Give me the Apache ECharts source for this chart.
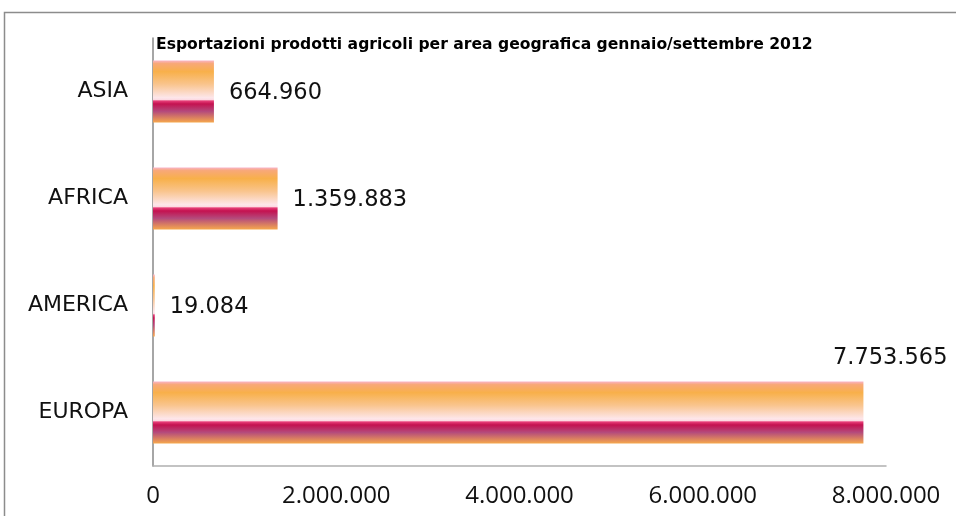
<!DOCTYPE html>
<html><head><meta charset="utf-8">
<script src="https://cdn.jsdelivr.net/npm/echarts@6/dist/echarts.min.js"></script>
<style>html,body{margin:0;padding:0;background:#fff}#c{width:956px;height:516px}</style>
</head><body><div id="c"></div>
<script>
var categories = ['EUROPA', 'AMERICA', 'AFRICA', 'ASIA'];
var values = [7753565, 19084, 1359883, 664960];
var xTicks = [0, 2000000, 4000000, 6000000, 8000000];
var titleText = 'Esportazioni prodotti agricoli per area geografica gennaio/settembre 2012';

function fmt(v) {
  return String(v).replace(/\B(?=(\d{3})+(?!\d))/g, '.');
}
var barColor = new echarts.graphic.LinearGradient(0, 0, 0, 1, [
  {offset: 0, color: '#f9b4c8'},
  {offset: 0.05, color: '#f8a878'},
  {offset: 0.18, color: '#f8b04a'},
  {offset: 0.38, color: '#f9c48c'},
  {offset: 0.6, color: '#fde6ea'},
  {offset: 0.635, color: '#fcd8e0'},
  {offset: 0.65, color: '#e8407a'},
  {offset: 0.7, color: '#c41250'},
  {offset: 0.82, color: '#b44a7c'},
  {offset: 1, color: '#f6a84c'}
]);
var data = values.map(function (v, i) {
  var item = {value: v};
  if (i === 0) {
    item.label = {position: 'top', offset: [382, 3]};
  }
  return item;
});
var chart = echarts.init(document.getElementById('c'), null, {renderer: 'canvas'});
chart.setOption({
  animation: false,
  title: {
    text: titleText, left: 151, top: 32,
    textStyle: {fontFamily: 'DejaVu Sans', fontWeight: 'bold', fontSize: 15.6, color: '#000'}
  },
  graphic: [{
    type: 'rect', shape: {x: 4.5, y: 12.5, width: 1000, height: 600},
    style: {fill: 'none', stroke: '#8c8c8c', lineWidth: 1.5}, silent: true
  }],
  grid: {left: 153, right: 70, top: 38, bottom: 50},
  xAxis: {
    type: 'value', min: 0, max: 8000000, interval: 2000000,
    axisLine: {show: true, lineStyle: {color: '#b0b0b0', width: 1.5}},
    axisTick: {show: false},
    splitLine: {show: false},
    axisLabel: {
      margin: 18, color: '#111', fontSize: 24,
      fontFamily: 'Open Sans',
      formatter: function (v) { return fmt(v); }
    }
  },
  yAxis: {
    type: 'category', data: categories,
    axisLine: {show: true, lineStyle: {color: '#888', width: 1.5}},
    axisTick: {show: false},
    axisLabel: {margin: 25, color: '#111', fontSize: 22, fontFamily: 'DejaVu Sans'}
  },
  series: [{
    type: 'bar', data: data, barCategoryGap: '42%',
    itemStyle: {color: barColor},
    label: {
      show: true, position: 'right', distance: 15, offset: [0, 2], color: '#111',
      fontSize: 22.5, fontFamily: 'DejaVu Sans',
      formatter: function (p) { return fmt(p.value); }
    }
  }]
});
</script></body></html>
